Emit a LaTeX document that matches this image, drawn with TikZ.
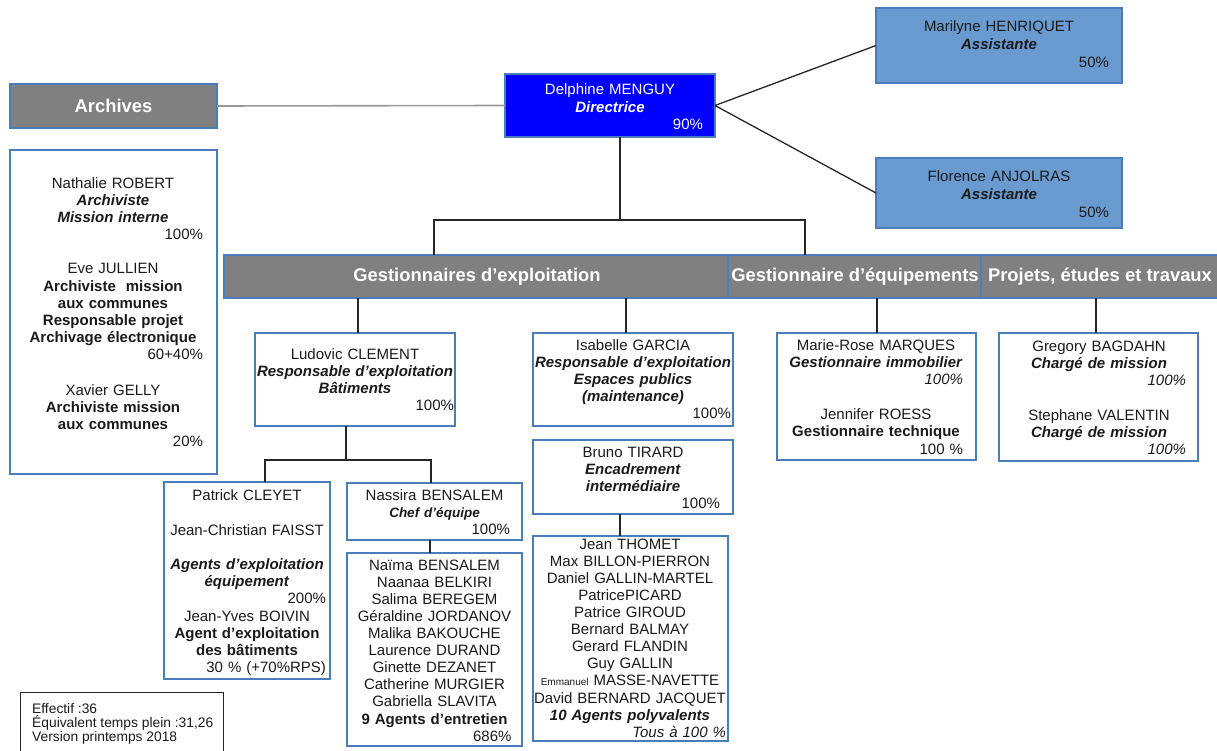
\documentclass[tikz,border=0pt]{standalone}
\usepackage{fontspec}
\setmainfont{Liberation Sans}
\definecolor{bordc}{HTML}{4A7EBB}
\definecolor{bandg}{HTML}{808080}
\definecolor{dirblue}{HTML}{0000FF}
\definecolor{asst}{HTML}{6A9BD0}
\definecolor{connc}{HTML}{262626}
\definecolor{txtc}{HTML}{1A1A1A}
\newcommand\bxi[1]{\textbf{\textit{#1}}}
\tikzset{
  box/.style={draw=bordc, line width=1.1pt, fill=white, inner sep=0pt, outer sep=0pt, anchor=north west},
  band/.style={box, fill=bandg, text=white, font=\bfseries\fontsize{18.4}{20}\selectfont},
  bandtxt/.style={text=white, font=\bfseries\fontsize{18.4}{20}\selectfont},
  txt/.style={anchor=north, align=center, inner sep=0pt, text=txtc, font=\fontsize{15}{17.1}\selectfont},
  conn/.style={draw=connc, line width=1.3pt},
}
\begin{document}
\begin{tikzpicture}[x=1pt,y=-1pt]
\useasboundingbox (0,0) rectangle (1217,751);
% ---------- top level ----------
\node[band, minimum width=207, minimum height=44] (arch) at (10,84) {};
\node[bandtxt] (tarch) at (arch.center) {Archives};
\node[box, fill=dirblue, minimum width=210, minimum height=63] (dir) at (505,74) {};
\node[txt, text=white, text width=186, font=\fontsize{15}{17.5}\selectfont] (tdir) at (610,83.5)
  {Delphine MENGUY\\ \bxi{Directrice}\\ \hspace*{\fill}90\%};
\node[box, fill=asst, minimum width=246, minimum height=75] (mar) at (876,8) {};
\node[txt, text width=220, font=\fontsize{15}{18}\selectfont] (tmar) at (999,20.5)
  {Marilyne HENRIQUET\\ \bxi{Assistante}\\ \hspace*{\fill}50\%};
\node[box, fill=asst, minimum width=246, minimum height=70] (flo) at (876,158) {};
\node[txt, text width=220, font=\fontsize{15}{18}\selectfont] (tflo) at (999,170.5)
  {Florence ANJOLRAS\\ \bxi{Assistante}\\ \hspace*{\fill}50\%};
% ---------- archives staff ----------
\node[box, minimum width=207, minimum height=324] (arst) at (10,150) {};
\node[txt, text width=180] (tarst) at (113,177.5)
  {Nathalie ROBERT\\ \bxi{Archiviste}\\ \bxi{Mission interne}\\ \hspace*{\fill}100\%\\[17pt]
   Eve JULLIEN\\ \textbf{Archiviste\ \ mission}\\ \textbf{aux communes}\\ \textbf{Responsable projet}\\ \textbf{Archivage électronique}\\ \hspace*{\fill}60+40\%\\[19pt]
   Xavier GELLY\\ \textbf{Archiviste mission}\\ \textbf{aux communes}\\ \hspace*{\fill}20\%};
% ---------- band ----------
\node[band, minimum width=504, minimum height=43] (gexp) at (224,255) {};
\node[band, minimum width=253, minimum height=43] (gequ) at (728,255) {};
\node[band, minimum width=240, minimum height=43] (proj) at (981,255) {};
\node[bandtxt] (tgexp) at (477,277) {Gestionnaires d'exploitation};
\node[bandtxt] (tgequ) at (855,277) {Gestionnaire d'équipements};
\node[bandtxt] (tproj) at (1100,277) {Projets, études et travaux};
% ---------- second level ----------
\node[box, minimum width=200, minimum height=93] (lud) at (255,333) {};
\node[txt, text width=198] (tlud) at (355,348.5)
  {Ludovic CLEMENT\\ \bxi{Responsable d’exploitation}\\ \bxi{Bâtiments}\\ \hspace*{\fill}100\%};
\node[box, minimum width=200, minimum height=93] (isa) at (533,333) {};
\node[txt, text width=196] (tisa) at (633,339.5)
  {Isabelle GARCIA\\ \bxi{Responsable d’exploitation}\\ \bxi{Espaces publics}\\ \bxi{(maintenance)}\\ \hspace*{\fill}100\%};
\node[box, minimum width=199, minimum height=127] (mrm) at (777,333) {};
\node[txt, text width=174] (tmrm) at (876,339.5)
  {Marie-Rose MARQUES\\ \bxi{Gestionnaire immobilier}\\ \hspace*{\fill}\textit{100\%}\\[18pt]
   Jennifer ROESS\\ \textbf{Gestionnaire technique}\\ \hspace*{\fill}100 \%};
\node[box, minimum width=199, minimum height=128] (gre) at (999,333) {};
\node[txt, text width=174] (tgre) at (1099,340.5)
  {Gregory BAGDAHN\\ \bxi{Chargé de mission}\\ \hspace*{\fill}\textit{100\%}\\[18pt]
   Stephane VALENTIN\\ \bxi{Chargé de mission}\\ \hspace*{\fill}\textit{100\%}};
% ---------- third level ----------
\node[box, minimum width=166, minimum height=197] (pat) at (164,482) {};
\node[txt, text width=158] (tpat) at (247,489.5)
  {Patrick CLEYET\\[18pt] Jean-Christian FAISST\\[17pt]
   \bxi{Agents d’exploitation}\\ \bxi{équipement}\\ \hspace*{\fill}200\%\\
   Jean-Yves BOIVIN\\ \textbf{Agent d’exploitation}\\ \textbf{des bâtiments}\\ \hspace*{\fill}30 \% (+70\%RPS)};
\node[box, minimum width=175, minimum height=57] (nas) at (347,483) {};
\node[txt, text width=151] (tnas) at (434.5,489.5)
  {Nassira BENSALEM\\ {\fontsize{13.5}{17}\selectfont\bxi{Chef d’équipe}}\\ \hspace*{\fill}100\%};
\node[box, minimum width=175, minimum height=193] (nai) at (347,553) {};
\node[txt, text width=154] (tnai) at (434.5,559.5)
  {Naïma BENSALEM\\ Naanaa BELKIRI\\ Salima BEREGEM\\ Géraldine JORDANOV\\ Malika BAKOUCHE\\
   Laurence DURAND\\ Ginette DEZANET\\ Catherine MURGIER\\ Gabriella SLAVITA\\
   \textbf{9 Agents d’entretien}\\ \hspace*{\fill}686\%};
\node[box, minimum width=200, minimum height=74] (bru) at (533,440) {};
\node[txt, text width=174] (tbru) at (633,446.5)
  {Bruno TIRARD\\ \bxi{Encadrement}\\ \bxi{intermédiaire}\\ \hspace*{\fill}100\%};
\node[box, minimum width=195, minimum height=205] (jea) at (533,536) {};
\node[txt, text width=192] (tjea) at (630,538.5)
  {Jean THOMET\\ Max BILLON-PIERRON\\ Daniel GALLIN-MARTEL\\ PatricePICARD\\ Patrice GIROUD\\
   Bernard BALMAY\\ Gerard FLANDIN\\ Guy GALLIN\\ {\fontsize{10}{17}\selectfont Emmanuel} MASSE-NAVETTE\\
   David BERNARD JACQUET\\ \bxi{10 Agents polyvalents}\\ \hspace*{\fill}\textit{Tous à 100 \%}};
% ---------- footer ----------
\node[box, draw=connc, line width=0.9pt, minimum width=203, minimum height=80] (foot) at (20,692) {};
\node[anchor=north west, align=left, inner sep=0pt, text=txtc, font=\fontsize{13.8}{14}\selectfont] (tfoot) at (32,703)
  {Effectif :36\\ Équivalent temps plein :31,26\\ Version printemps 2018};
% ---------- connectors ----------
\draw[draw=gray!80, line width=1.6pt] (arch.east) -- (dir.west);
\draw[conn] (dir.east) -- (mar.west);
\draw[conn] (dir.east) -- (flo.west);
\coordinate (dv) at (620,220);
\coordinate (bl) at (434,220);
\coordinate (br) at (805,220);
\draw[conn] (dir.south -| dv) -- (dv);
\draw[conn] (gexp.north -| bl) -- (bl) -- (br) -- (gequ.north -| br);
\coordinate (c1) at (358,300);
\coordinate (c2) at (626,300);
\coordinate (c3) at (877,300);
\coordinate (c4) at (1096,300);
\draw[conn] (gexp.south -| c1) -- (lud.north -| c1);
\draw[conn] (gexp.south -| c2) -- (isa.north -| c2);
\draw[conn] (gequ.south -| c3) -- (mrm.north -| c3);
\draw[conn] (proj.south -| c4) -- (gre.north -| c4);
\coordinate (lj) at (346,460);
\coordinate (lpa) at (265,460);
\coordinate (lna) at (431,460);
\draw[conn] (lud.south -| lj) -- (lj);
\draw[conn] (pat.north -| lpa) -- (lpa) -- (lna) -- (nas.north -| lna);
\coordinate (nj) at (430,545);
\draw[conn] (nas.south -| nj) -- (nai.north -| nj);
\coordinate (bj) at (620,525);
\draw[conn] (bru.south -| bj) -- (jea.north -| bj);
\end{tikzpicture}
\end{document}
